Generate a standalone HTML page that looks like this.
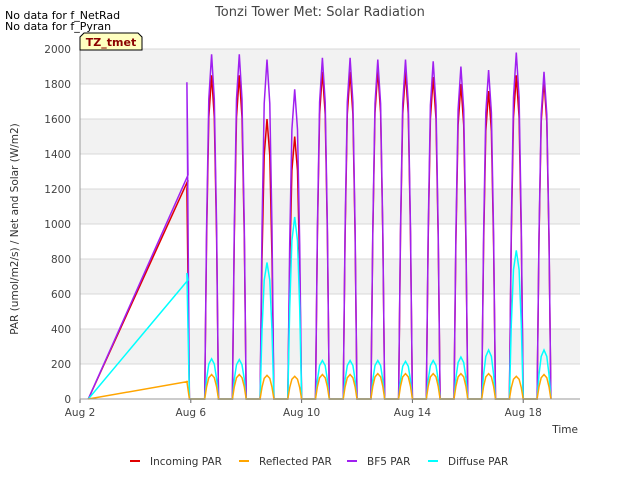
<!DOCTYPE html>
<html><head><meta charset="utf-8"><style>
body{margin:0;background:#fff;font-family:"DejaVu Sans","Liberation Sans",sans-serif;}
svg text{font-family:"DejaVu Sans","Liberation Sans",sans-serif;}
</style></head><body>
<svg id="chart" width="640" height="480" xmlns="http://www.w3.org/2000/svg">
<g id="bands"></g>
<g id="grid"></g>
<text x="320" y="16" text-anchor="middle" font-size="13" fill="#444">Tonzi Tower Met: Solar Radiation</text>
<text x="5" y="19" font-size="11" fill="#000">No data for f_NetRad</text>
<text x="5" y="30" font-size="11" fill="#000">No data for f_Pyran</text>
<g id="series" clip-path="url(#clip)"></g>
<clipPath id="clip"><rect x="80" y="45" width="500" height="356"/></clipPath>
<g id="axes"></g>
<g>
<path d="M80,50 L80,37 L84,33 L138,33 L142,37 L142,50 Z" fill="#ffffc0" stroke="#000" stroke-width="1"/>
<text x="111" y="46" text-anchor="middle" font-size="11" font-weight="bold" fill="#8b0000">TZ_tmet</text>
</g>
<text transform="translate(18,229) rotate(-90)" text-anchor="middle" font-size="10.5" fill="#333">PAR (umol/m2/s) / Net and Solar (W/m2)</text>
<text x="578" y="433" text-anchor="end" font-size="10.5" fill="#333">Time</text>
<g id="legend"></g>
</svg>
<script>
const yTicks=[0,200,400,600,800,1000,1200,1400,1600,1800,2000];
const xTickDays=[2,6,10,14,18];
const xTickLabels=["Aug 2","Aug 6","Aug 10","Aug 14","Aug 18"];
const seriesNames=["Incoming PAR","Reflected PAR","BF5 PAR","Diffuse PAR"];
const seriesColors=["#e00000","#ffa500","#a020f0","#00ffff"];
const peakDays=[6,7,8,9,10,11,12,13,14,15,16,17,18];
const incomingPeaks=[1850,1850,1600,1500,1870,1870,1880,1870,1840,1800,1760,1850,1820];
const reflectedPeaks=[140,140,135,130,140,140,145,145,145,145,145,130,140];
const bf5Peaks=[1970,1970,1940,1770,1950,1950,1940,1940,1930,1900,1880,1980,1870];
const diffusePeaks=[230,225,780,1040,220,220,220,215,220,240,280,850,280];
const startDay=2.3, rampDay=5.9;
const rampValues=[1250,100,1280,680];
const spikeValues=[1200,100,1810,720];
const profileOffsets=[0.55,0.62,0.7,0.8,0.9,0.98,1.05];
const profileShape=[0,0.5,0.87,1,0.87,0.5,0];

const NS="http://www.w3.org/2000/svg";
const X0=80,X1=580,Y0=399,Y1=49,D0=2,D1=20.05;
const x=d=>X0+(d-D0)/(D1-D0)*(X1-X0);
const y=v=>Y0-v/2000*(Y0-Y1);
function el(t,a,p){const e=document.createElementNS(NS,t);for(const k in a)e.setAttribute(k,a[k]);p.appendChild(e);return e;}
const bands=document.getElementById('bands'),grid=document.getElementById('grid'),axes=document.getElementById('axes');
el('rect',{x:X0,y:Y1,width:X1-X0,height:Y0-Y1,fill:'#fff'},bands);
for(let i=0;i<yTicks.length-1;i++){
  if(i%2===1){const r=el('rect',{x:X0,y:y(yTicks[i+1]),width:X1-X0,height:y(yTicks[i])-y(yTicks[i+1]),fill:'#f2f2f2'},bands);
  
  }
}
yTicks.forEach(v=>{
  const l=el('line',{x1:X0,x2:X1,y1:y(v),y2:y(v),stroke:'#d8d8d8','stroke-width':1},grid);
  
  
  const t=el('text',{x:71,y:y(v)+4,'text-anchor':'end','font-size':'10.5',fill:'#444'},axes);
  t.textContent=v;
  
  
});
xTickDays.forEach((d,i)=>{
  const l=el('line',{x1:x(d),x2:x(d),y1:Y0,y2:Y0+4,stroke:'#666'},axes);
  
  
  const t=el('text',{x:x(d),y:416,'text-anchor':'middle','font-size':'10.5',fill:'#444'},axes);
  t.textContent=xTickLabels[i];
  
  
});
const ax=el('path',{d:`M${X0},${Y1}V${Y0}H${X1}`,fill:'none',stroke:'#999'},axes);


const peaks=[incomingPeaks,reflectedPeaks,bf5Peaks,diffusePeaks];
const order=[0,2,3,1];
const S=document.getElementById('series');
order.forEach(s=>{
  let pts=[[startDay,0],[rampDay,rampValues[s]],[5.86,spikeValues[s]],[5.95,0]];
  peakDays.forEach((d,i)=>{profileOffsets.forEach((o,k)=>pts.push([d+o-0.05,peaks[s][i]*profileShape[k]]));});
  const p=el('path',{d:pts.map((q,i)=>(i?'L':'M')+x(q[0]).toFixed(1)+','+y(q[1]).toFixed(1)).join(''),fill:'none',stroke:seriesColors[s],'stroke-width':1.5},S);
  
  
});
const L=document.getElementById('legend');
const lx=[130,239,347,428];
seriesNames.forEach((n,i)=>{
  const g=el('g',{},L);
  
  
  el('line',{x1:lx[i],x2:lx[i]+10,y1:461,y2:461,stroke:seriesColors[i],'stroke-width':2},g);
  const t=el('text',{x:lx[i]+20,y:465,'font-size':'10.5',fill:'#333'},g);
  t.textContent=n;
});
</script>
</body></html>
